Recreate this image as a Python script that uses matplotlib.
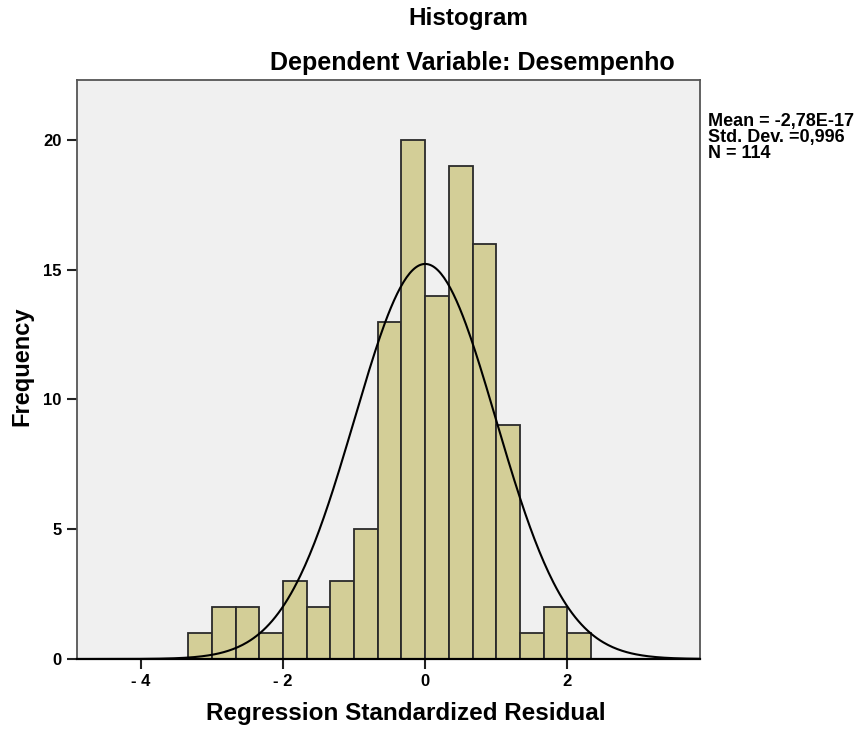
import matplotlib
matplotlib.use("Agg")
import matplotlib.pyplot as plt
import numpy as np

plt.rcParams['font.family'] = ['Liberation Sans', 'DejaVu Sans']
plt.rcParams['font.weight'] = 'bold'

# histogram of regression standardized residuals
bin_edges = np.arange(-10, 8) / 3.0
counts = [1, 2, 2, 1, 3, 2, 3, 5, 13, 20, 14, 19, 16, 9, 1, 2, 1]
mean = -2.78e-17
std = 0.996
n = 114

x_ticks = [-4, -2, 0, 2]
x_tick_labels = ['- 4', '- 2', '0', '2']
y_ticks = [0, 5, 10, 15, 20]

fig = plt.figure(figsize=(8.62, 7.29), dpi=100)
ax = fig.add_axes([0.0893, 0.096, 0.723, 0.794])
ax.set_facecolor('#F0F0F0')

ax.bar(bin_edges[:-1], counts, width=np.diff(bin_edges), align='edge',
       color='#D3CE97', edgecolor='#2a2a2a', linewidth=1.3, zorder=2)

# normal curve scaled to counts
bw = bin_edges[1] - bin_edges[0]
xs = np.linspace(-4.9, 3.87, 400)
ys = n * bw / (std * np.sqrt(2 * np.pi)) * np.exp(-0.5 * ((xs - mean) / std) ** 2)
ax.plot(xs, ys, color='black', linewidth=1.5, zorder=3)

ax.set_xlim(-4.9, 3.87)
ax.set_ylim(0, 22.3)
ax.set_xticks(x_ticks)
ax.set_xticklabels(x_tick_labels, fontsize=12, fontweight='bold')
ax.set_yticks(y_ticks)
ax.set_yticklabels([str(v) for v in y_ticks], fontsize=12, fontweight='bold')
ax.tick_params(axis='both', direction='out', length=7, width=1.5, color='#222222', pad=4)

for side in ['left', 'top', 'right']:
    ax.spines[side].set_color('#555555')
    ax.spines[side].set_linewidth(1.3)
ax.spines['bottom'].set_color('black')
ax.spines['bottom'].set_linewidth(1.6)

ax.set_xlabel('Regression Standardized Residual', fontsize=17.5, fontweight='bold')
ax.xaxis.set_label_coords(0.528, -0.075)
ax.set_ylabel('Frequency', fontsize=17, fontweight='bold')
ax.yaxis.set_label_coords(-0.07, 0.505)

fig.text(0.543, 0.975, 'Histogram', ha='center', va='center', fontsize=17.5, fontweight='bold')
fig.text(0.548, 0.914, 'Dependent Variable: Desempenho', ha='center', va='center',
         fontsize=18, fontweight='bold')

fig.text(0.821, 0.812, 'Mean = -2,78E-17\nStd. Dev. =0,996\nN = 114', ha='left', va='center',
         fontsize=13, fontweight='bold', linespacing=0.92)

fig.savefig('out.png', dpi=100)
